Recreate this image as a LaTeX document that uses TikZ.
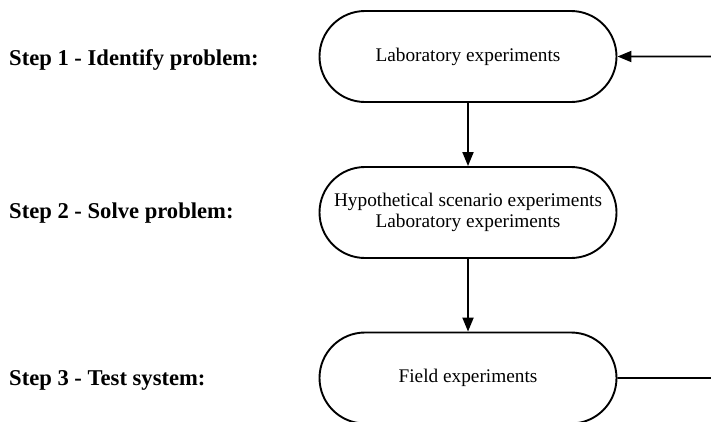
\documentclass[tikz,border=0pt]{standalone}
\usepackage{fontspec}
\setmainfont{Liberation Serif}
\usetikzlibrary{shapes.misc,arrows.meta,positioning}
\begin{document}
\begin{tikzpicture}[x=1pt,y=-1pt,
  stage/.style={draw, line width=1.9pt, rounded rectangle, minimum width=301pt,
    minimum height=91pt, inner xsep=2pt, align=center,
    font=\fontsize{19.3}{21.5}\selectfont},
  steplabel/.style={anchor=base west, inner sep=0pt, font=\fontsize{22.6}{25}\selectfont\bfseries},
  flow/.style={line width=1.9pt, -{Triangle[length=14pt,width=11pt]}}]
\clip (0,0) rectangle (711,421);
\useasboundingbox (0,0) rectangle (711,421);
% stages
\node[stage] (lab) at (468,56.5) {Laboratory experiments};
\node[stage] (hyp) at (468,212.5) {Hypothetical scenario experiments\\Laboratory experiments};
\node[stage] (field) at (468,378) {Field experiments};
% step labels
\node[steplabel] (s1) at (9,65) {Step 1 - Identify problem:};
\node[steplabel] (s2) at (9,218) {Step 2 - Solve problem:};
\node[steplabel] (s3) at (9,385) {Step 3 - Test system:};
% connectors
\coordinate (back) at (711,56.5);
\coordinate (out) at (711,378);
\draw[flow] (lab) -- (hyp);
\draw[flow] (hyp) -- (field);
\draw[flow] (back) -- (lab);
\draw[line width=1.9pt] (field) -- (out);
\end{tikzpicture}
\end{document}
